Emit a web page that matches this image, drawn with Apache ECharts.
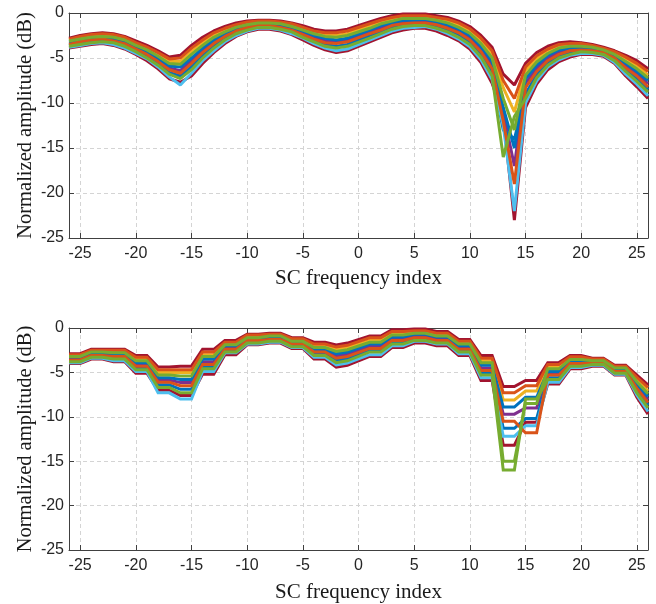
<!DOCTYPE html>
<html>
<head>
<meta charset="utf-8">
<script src="https://cdn.jsdelivr.net/npm/echarts@6/dist/echarts.min.js"></script>
<style>html,body{margin:0;padding:0;background:#fff}#c{width:656px;height:604px}</style>
</head>
<body>
<div id="c"></div>
<script>
// Subcarrier indices (DC excluded)
const scIndex = [-26,-25,-24,-23,-22,-21,-20,-19,-18,-17,-16,-15,-14,-13,-12,-11,-10,-9,-8,-7,-6,-5,-4,-3,-2,-1,
  1,2,3,4,5,6,7,8,9,10,11,12,13,14,15,16,17,18,19,20,21,22,23,24,25,26];
const xTicks = [-25,-20,-15,-10,-5,0,5,10,15,20,25];
const yTicks = [-25,-20,-15,-10,-5,0];

// Top panel: per-subcarrier normalized amplitude (dB), one array per realization
const top0 = [-2.8,-2.5,-2.3,-2.2,-2.3,-2.6,-3.1,-3.6,-4.2,-4.9,-4.7,-3.6,-2.7,-2.0,-1.5,-1.1,-0.9,-0.8,-0.8,-0.9,-1.1,-1.4,-1.8,-2.0,-2.0,-1.8,-1.0,-0.6,-0.3,-0.1,-0.1,-0.1,-0.3,-0.5,-0.9,-1.5,-2.5,-3.8,-6.8,-8.0,-5.6,-4.4,-3.7,-3.3,-3.2,-3.3,-3.5,-3.8,-4.2,-4.7,-5.3,-6.2];
const top1 = [-2.9,-2.6,-2.4,-2.3,-2.4,-2.7,-3.3,-3.8,-4.4,-5.1,-5.0,-3.9,-3.0,-2.2,-1.7,-1.3,-1.0,-0.9,-0.9,-1.0,-1.2,-1.6,-2.0,-2.2,-2.2,-2.0,-1.2,-0.8,-0.5,-0.3,-0.3,-0.3,-0.5,-0.7,-1.1,-1.75,-2.8,-4.2,-7.5,-9.5,-6.0,-4.75,-4.0,-3.5,-3.4,-3.4,-3.6,-3.9,-4.3,-4.9,-5.6,-6.5];
const top2 = [-3.0,-2.7,-2.5,-2.4,-2.6,-2.9,-3.4,-3.9,-4.6,-5.4,-5.4,-4.3,-3.3,-2.5,-1.9,-1.4,-1.1,-1.0,-1.0,-1.1,-1.4,-1.7,-2.2,-2.4,-2.5,-2.3,-1.4,-1.0,-0.7,-0.5,-0.4,-0.4,-0.6,-0.9,-1.3,-2.0,-3.1,-4.6,-8.3,-11.0,-6.4,-5.1,-4.2,-3.7,-3.5,-3.6,-3.7,-4.0,-4.5,-5.2,-5.9,-6.9];
const top3 = [-3.1,-2.9,-2.7,-2.6,-2.7,-3.0,-3.6,-4.1,-4.8,-5.6,-5.7,-4.6,-3.6,-2.7,-2.1,-1.6,-1.3,-1.1,-1.1,-1.2,-1.5,-1.9,-2.3,-2.6,-2.7,-2.5,-1.7,-1.2,-0.9,-0.6,-0.6,-0.6,-0.8,-1.1,-1.6,-2.25,-3.4,-5.0,-9.5,-13.0,-6.9,-5.45,-4.5,-3.9,-3.7,-3.7,-3.8,-4.1,-4.6,-5.4,-6.2,-7.2];
const top4 = [-3.2,-3.0,-2.8,-2.7,-2.8,-3.2,-3.7,-4.3,-5.0,-5.9,-6.0,-5.0,-3.9,-3.0,-2.3,-1.7,-1.4,-1.2,-1.2,-1.3,-1.6,-2.0,-2.5,-2.8,-3.0,-2.8,-1.9,-1.4,-1.1,-0.8,-0.8,-0.7,-1.0,-1.3,-1.8,-2.5,-3.7,-5.4,-10.5,-15.0,-7.3,-5.8,-4.7,-4.1,-3.9,-3.8,-3.9,-4.2,-4.8,-5.6,-6.5,-7.5];
const top5 = [-3.35,-3.1,-2.9,-2.8,-3.0,-3.3,-3.9,-4.5,-5.2,-6.1,-6.4,-5.3,-4.2,-3.2,-2.5,-1.9,-1.5,-1.3,-1.3,-1.45,-1.75,-2.2,-2.7,-3.05,-3.2,-3.0,-2.1,-1.65,-1.25,-1.0,-0.9,-0.9,-1.15,-1.5,-2.0,-2.75,-4.0,-5.8,-11.0,-17.0,-7.8,-6.15,-5.0,-4.35,-4.05,-3.95,-4.05,-4.3,-4.9,-5.85,-6.75,-7.85];
const top6 = [-3.5,-3.2,-3.0,-2.9,-3.1,-3.4,-4.0,-4.6,-5.4,-6.3,-6.7,-5.6,-4.4,-3.4,-2.6,-2.0,-1.6,-1.4,-1.4,-1.6,-1.9,-2.4,-2.9,-3.3,-3.4,-3.2,-2.3,-1.9,-1.4,-1.2,-1.1,-1.1,-1.3,-1.7,-2.2,-3.0,-4.3,-6.2,-12.0,-19.0,-8.3,-6.5,-5.3,-4.6,-4.2,-4.1,-4.2,-4.4,-5.0,-6.1,-7.0,-8.2];
const top7 = [-3.6,-3.3,-3.1,-3.0,-3.2,-3.6,-4.2,-4.8,-5.6,-6.6,-7.0,-6.0,-4.7,-3.7,-2.8,-2.2,-1.7,-1.5,-1.5,-1.7,-2.0,-2.5,-3.1,-3.5,-3.7,-3.5,-2.5,-2.1,-1.6,-1.4,-1.3,-1.2,-1.5,-1.9,-2.4,-3.25,-4.6,-6.6,-13.0,-14.0,-9.0,-6.85,-5.5,-4.8,-4.4,-4.2,-4.3,-4.5,-5.2,-6.3,-7.3,-8.5];
const top8 = [-3.7,-3.5,-3.3,-3.2,-3.3,-3.7,-4.3,-5.0,-5.8,-6.8,-7.3,-6.3,-5.0,-3.9,-3.0,-2.3,-1.9,-1.6,-1.6,-1.8,-2.1,-2.7,-3.2,-3.7,-3.9,-3.7,-2.8,-2.3,-1.8,-1.5,-1.4,-1.4,-1.7,-2.1,-2.7,-3.5,-4.9,-7.0,-16.0,-11.5,-9.5,-7.2,-5.8,-5.0,-4.6,-4.3,-4.4,-4.6,-5.3,-6.5,-7.6,-8.8];
const top9 = [-3.8,-3.6,-3.4,-3.3,-3.5,-3.9,-4.5,-5.1,-6.0,-7.1,-8.0,-6.7,-5.3,-4.2,-3.2,-2.5,-2.0,-1.7,-1.7,-1.9,-2.3,-2.8,-3.4,-3.9,-4.2,-4.0,-3.0,-2.5,-2.0,-1.7,-1.6,-1.5,-1.8,-2.3,-2.9,-3.75,-5.2,-7.4,-12.5,-22.0,-10.0,-7.55,-6.0,-5.2,-4.7,-4.5,-4.5,-4.7,-5.5,-6.8,-7.9,-9.2];
const top10 = [-3.9,-3.7,-3.5,-3.4,-3.6,-4.0,-4.6,-5.3,-6.2,-7.3,-7.7,-7.0,-5.6,-4.4,-3.4,-2.6,-2.1,-1.8,-1.8,-2.0,-2.4,-3.0,-3.6,-4.1,-4.4,-4.2,-3.2,-2.7,-2.2,-1.9,-1.7,-1.7,-2.0,-2.5,-3.1,-4.0,-5.5,-7.8,-11.5,-23.0,-10.5,-7.9,-6.3,-5.4,-4.9,-4.6,-4.6,-4.8,-5.6,-7.0,-8.2,-9.5];
const topSeries = [top0,top1,top2,top3,top4,top5,top6,top7,top8,top9,top10];

// Bottom panel: grouped feedback values at the group's anchor subcarriers
const groupAnchor = [-26,-24,-22,-20,-18,-16,-14,-12,-10,-8,-6,-4,-2,-1,1,3,5,7,9,11,13,15,17,19,21,23,25,26];
const bot0 = [-2.9,-2.4,-2.4,-3.1,-4.4,-4.3,-2.4,-1.4,-0.7,-0.6,-1.1,-1.6,-1.9,-1.7,-0.9,-0.2,-0.1,-0.4,-1.3,-3.1,-6.6,-5.9,-3.9,-3.1,-3.4,-4.2,-5.3,-6.4];
const bot1 = [-3.0,-2.5,-2.5,-3.3,-4.7,-4.7,-2.7,-1.6,-0.8,-0.7,-1.2,-1.8,-2.15,-1.95,-1.1,-0.4,-0.3,-0.6,-1.5,-3.4,-7.3,-6.5,-4.1,-3.25,-3.5,-4.3,-5.55,-6.7];
const bot2 = [-3.1,-2.6,-2.7,-3.5,-5.0,-5.0,-3.0,-1.7,-0.9,-0.8,-1.3,-2.0,-2.4,-2.2,-1.4,-0.6,-0.4,-0.7,-1.7,-3.7,-8.1,-7.1,-4.4,-3.4,-3.6,-4.4,-5.8,-7.1];
const bot3 = [-3.2,-2.7,-2.8,-3.7,-5.3,-5.4,-3.2,-1.9,-1.1,-0.9,-1.5,-2.2,-2.65,-2.45,-1.6,-0.8,-0.6,-0.9,-1.8,-3.9,-15.0,-8.5,-4.6,-3.55,-3.7,-4.5,-6.05,-7.4];
const bot4 = [-3.3,-2.8,-3.0,-3.9,-5.6,-5.8,-3.5,-2.0,-1.2,-1.0,-1.6,-2.4,-2.9,-2.7,-1.8,-1.0,-0.7,-1.0,-2.0,-4.2,-8.9,-7.8,-4.9,-3.7,-3.75,-4.6,-6.3,-7.7];
const bot5 = [-3.45,-2.95,-3.1,-4.1,-5.85,-6.15,-3.8,-2.2,-1.3,-1.15,-1.7,-2.55,-3.15,-2.95,-2.05,-1.2,-0.9,-1.2,-2.2,-4.5,-9.7,-9.0,-5.1,-3.85,-3.85,-4.75,-6.55,-8.05];
const bot6 = [-3.6,-3.1,-3.2,-4.3,-6.1,-6.5,-4.1,-2.4,-1.4,-1.3,-1.8,-2.7,-3.4,-3.2,-2.3,-1.4,-1.1,-1.4,-2.4,-4.8,-10.5,-11.8,-5.3,-4.0,-3.95,-4.9,-6.8,-8.4];
const bot7 = [-3.7,-3.2,-3.4,-4.5,-6.4,-6.9,-4.4,-2.5,-1.5,-1.4,-1.9,-2.9,-3.65,-3.45,-2.5,-1.6,-1.2,-1.5,-2.6,-5.1,-11.3,-10.2,-5.6,-4.15,-4.0,-5.0,-7.05,-8.7];
const bot8 = [-3.8,-3.3,-3.5,-4.7,-6.7,-7.3,-4.6,-2.7,-1.7,-1.5,-2.1,-3.1,-3.9,-3.7,-2.7,-1.8,-1.4,-1.7,-2.7,-5.3,-16.0,-8.0,-5.8,-4.3,-4.1,-5.1,-7.3,-9.0];
const bot9 = [-3.9,-3.4,-3.7,-4.9,-7.3,-8.0,-4.9,-2.8,-1.8,-1.6,-2.2,-3.3,-4.15,-3.95,-3.0,-2.0,-1.5,-1.8,-2.9,-5.6,-12.2,-11.0,-6.1,-4.45,-4.2,-5.2,-7.55,-9.4];
const bot10 = [-4.0,-3.5,-3.8,-5.1,-7.0,-7.6,-5.2,-3.0,-1.9,-1.7,-2.3,-3.5,-4.4,-4.2,-3.2,-2.2,-1.7,-2.0,-3.1,-5.9,-13.2,-10.6,-6.3,-4.6,-4.3,-5.3,-7.8,-9.7];
const botSeries = [bot0,bot1,bot2,bot3,bot4,bot5,bot6,bot7,bot8,bot9,bot10];

const lineColors = ['#A2142F','#D95319','#EDB120','#77AC30','#0072BD','#7E2F8E','#D95319','#0072BD','#77AC30','#4DBEEE','#A2142F'];
// order in which the realizations are drawn (later ones on top)
const drawOrder = [10, 0, 5, 2, 7, 4, 1, 9, 6, 3, 8];

// expand grouped values: each subcarrier takes the value of its group anchor
function expandGroups(vals) {
  return scIndex.map(x => {
    let k = 0;
    for (let i = 0; i < groupAnchor.length; i++) if (groupAnchor[i] <= x) k = i;
    return [x, vals[k]];
  });
}

const axisColor = '#404040';
const tickFont = {fontFamily: 'Liberation Sans', fontSize: 16, color: '#262626'};
const titleFont = {fontFamily: 'Liberation Serif', fontSize: 21, color: '#1a1a1a'};
const gridLine = {show: true, lineStyle: {type: [4, 3], color: '#d4d4d4', width: 1}};

function xAxes(gi, gap) {
  return [
    {gridIndex: gi, type: 'value', min: -26, max: 26, position: 'bottom',
     axisLine: {onZero: false, lineStyle: {color: axisColor}},
     axisTick: {inside: true, length: 5, customValues: xTicks, lineStyle: {color: axisColor}},
     axisLabel: Object.assign({customValues: xTicks, margin: 8}, tickFont),
     splitLine: gridLine,
     name: 'SC frequency index', nameLocation: 'middle', nameGap: gap, nameMoveOverlap: false,
     nameTextStyle: titleFont},
    {gridIndex: gi, type: 'value', min: -26, max: 26, position: 'top',
     axisLine: {onZero: false, lineStyle: {color: axisColor}},
     axisTick: {inside: true, length: 5, customValues: xTicks, lineStyle: {color: axisColor}},
     axisLabel: {show: false}, splitLine: {show: false}}
  ];
}
function yAxes(gi) {
  return [
    {gridIndex: gi, type: 'value', min: -25, max: 0, interval: 5, position: 'left',
     axisLine: {show: true, onZero: false, lineStyle: {color: axisColor}},
     axisTick: {show: true, inside: true, length: 5, lineStyle: {color: axisColor}},
     axisLabel: Object.assign({margin: 5, formatter: v => String(v)}, tickFont),
     splitLine: gridLine,
     name: 'Normalized amplitude (dB)', nameLocation: 'middle', nameGap: 33, nameRotate: 90,
     nameMoveOverlap: false,
     nameTextStyle: Object.assign({}, titleFont, {fontSize: 20.5})},
    {gridIndex: gi, type: 'value', min: -25, max: 0, interval: 5, position: 'right',
     axisLine: {show: true, onZero: false, lineStyle: {color: axisColor}},
     axisTick: {show: true, inside: true, length: 5, lineStyle: {color: axisColor}},
     axisLabel: {show: false}, splitLine: {show: false}}
  ];
}

const series = [];
drawOrder.forEach(i => {
  const arr = topSeries[i];
  series.push({type: 'line', xAxisIndex: 0, yAxisIndex: 0, showSymbol: false, silent: true,
    data: scIndex.map((x, j) => [x, arr[j]]),
    lineStyle: {width: 3, color: lineColors[i]}, itemStyle: {color: lineColors[i]}});
});
drawOrder.forEach(i => {
  const arr = botSeries[i];
  series.push({type: 'line', xAxisIndex: 2, yAxisIndex: 2, showSymbol: false, silent: true,
    data: expandGroups(arr),
    lineStyle: {width: 3, color: lineColors[i], join: 'miter'}, itemStyle: {color: lineColors[i]}});
});

const chart = echarts.init(document.getElementById('c'), null, {renderer: 'canvas'});
chart.setOption({
  animation: false,
  backgroundColor: '#ffffff',
  grid: [
    {left: 69, right: 8, top: 13, height: 225},
    {left: 69, right: 8, top: 328, height: 226}
  ],
  xAxis: xAxes(0, 30).concat(xAxes(1, 32)),
  yAxis: yAxes(0).concat(yAxes(1)),
  series: series
});
</script>
</body>
</html>
